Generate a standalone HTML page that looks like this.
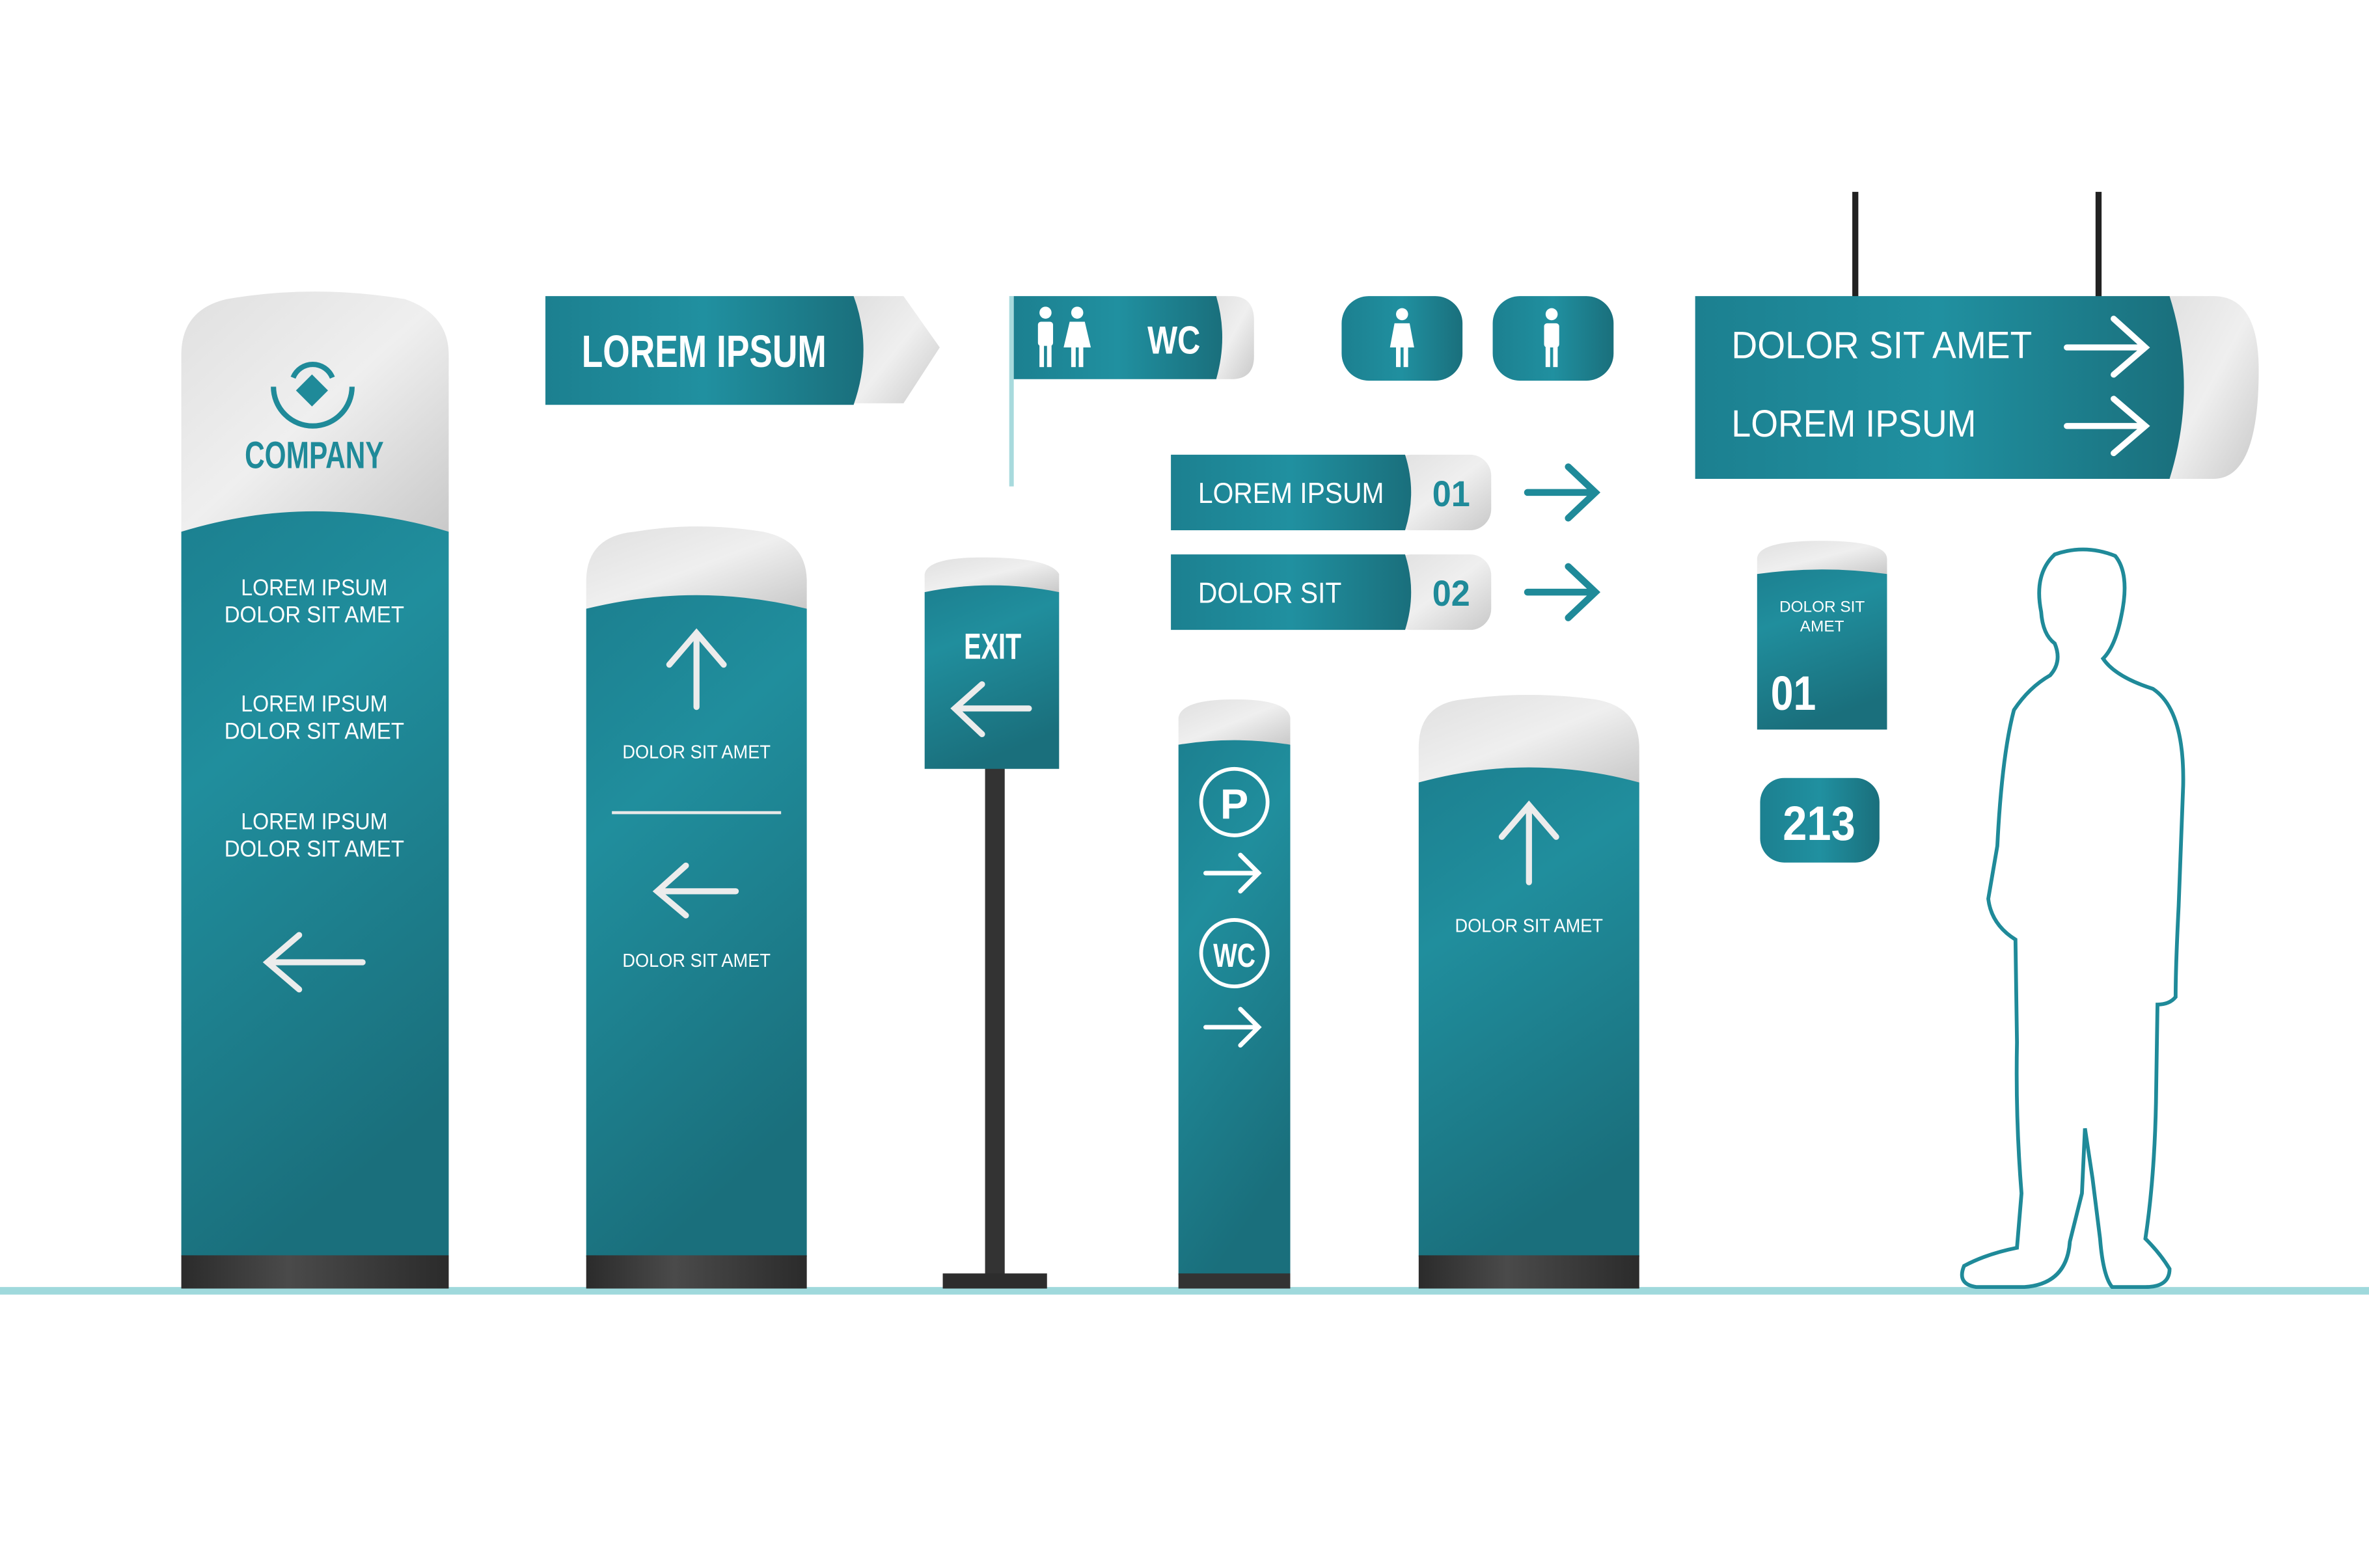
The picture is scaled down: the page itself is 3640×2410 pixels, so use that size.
<!DOCTYPE html>
<html><head><meta charset="utf-8"><style>
html,body{margin:0;padding:0;background:#fff;}
svg{display:block;}
text{font-family:"Liberation Sans",sans-serif;}
</style></head><body>
<svg width="3640" height="2410" viewBox="0 0 1568 1038" preserveAspectRatio="none" xmlns="http://www.w3.org/2000/svg">
<defs>
<linearGradient id="t" x1="0" y1="0" x2="0.3" y2="1"><stop offset="0" stop-color="#1c8090"/><stop offset="0.35" stop-color="#208e9d"/><stop offset="1" stop-color="#1a6f7c"/></linearGradient>
<linearGradient id="th" x1="0" y1="0" x2="1" y2="0"><stop offset="0" stop-color="#1c8090"/><stop offset="0.5" stop-color="#2090a0"/><stop offset="1" stop-color="#1a6f7c"/></linearGradient>
<linearGradient id="g" x1="0" y1="0" x2="1" y2="1"><stop offset="0" stop-color="#e0e0e0"/><stop offset="0.5" stop-color="#efefef"/><stop offset="1" stop-color="#c9c9c9"/></linearGradient>
<linearGradient id="d" x1="0" y1="0" x2="1" y2="0"><stop offset="0" stop-color="#2b2b2b"/><stop offset="0.4" stop-color="#4a4a4a"/><stop offset="1" stop-color="#2b2b2b"/></linearGradient>
</defs>
<rect x="0" y="852" width="1568" height="5" fill="#9fd9dc"/>

<!-- Tower 1 -->
<path d="M120 235 Q120 205 150 198 Q208 188 268 198 Q297 208 297 235 L297 352 L120 352Z" fill="url(#g)"/>
<path d="M120 352 Q208 325 297 352 L297 832 L120 832Z" fill="url(#t)"/>
<rect x="120" y="831" width="177" height="22" fill="url(#d)"/>
<g stroke="#1f8a99" stroke-width="3.5" fill="none"><path d="M181 256 A26 26 0 0 0 233 256"/><path d="M194 250 A14 14 0 0 1 220 250"/></g>
<rect x="199" y="251" width="15" height="15" fill="#1f8a99" transform="rotate(45 206.5 258.5)"/>
<text x="208" y="310" font-size="25" font-weight="bold" fill="#1f8a99" text-anchor="middle" textLength="92" lengthAdjust="spacingAndGlyphs">COMPANY</text>
<g fill="#fff" font-size="15" text-anchor="middle">
<text x="208" y="394" textLength="97" lengthAdjust="spacingAndGlyphs">LOREM IPSUM</text><text x="208" y="412" textLength="119" lengthAdjust="spacingAndGlyphs">DOLOR SIT AMET</text>
<text x="208" y="471" textLength="97" lengthAdjust="spacingAndGlyphs">LOREM IPSUM</text><text x="208" y="489" textLength="119" lengthAdjust="spacingAndGlyphs">DOLOR SIT AMET</text>
<text x="208" y="549" textLength="97" lengthAdjust="spacingAndGlyphs">LOREM IPSUM</text><text x="208" y="567" textLength="119" lengthAdjust="spacingAndGlyphs">DOLOR SIT AMET</text>
</g>
<path d="M240 637 H177 M198 619 L177 637 L198 655" stroke="#ececec" stroke-width="4" stroke-linecap="round" fill="none"/>

<!-- Lorem ipsum arrow sign -->
<path d="M565 196 L598 196 L622 230 L598 267 L565 267Z" fill="url(#g)"/>
<path d="M361 196 L565 196 Q578 231 565 268 L361 268Z" fill="url(#th)"/>
<text x="466" y="243" font-size="30" font-weight="bold" fill="#fff" text-anchor="middle" textLength="162" lengthAdjust="spacingAndGlyphs">LOREM IPSUM</text>

<!-- Tower 2 -->
<path d="M388 385 Q388 355 420 352 Q461 345 505 352 Q534 358 534 385 L534 403 L388 403Z" fill="url(#g)"/>
<path d="M388 403 Q461 385 534 403 L534 832 L388 832Z" fill="url(#t)"/>
<rect x="388" y="831" width="146" height="22" fill="url(#d)"/>
<g stroke="#ececec" stroke-width="4" stroke-linecap="round" fill="none">
<path d="M461 468 V419 M443 440 L461 419 L479 440"/>
<path d="M487 590 H435 M454 573 L435 590 L454 606"/>
</g>
<line x1="405" y1="538" x2="517" y2="538" stroke="#e8e8e8" stroke-width="2"/>
<g fill="#fff" font-size="12.5" text-anchor="middle"><text x="461" y="502" textLength="98" lengthAdjust="spacingAndGlyphs">DOLOR SIT AMET</text><text x="461" y="640" textLength="98" lengthAdjust="spacingAndGlyphs">DOLOR SIT AMET</text></g>

<!-- Exit -->
<rect x="652" y="508" width="13" height="338" fill="#333"/>
<rect x="624" y="843" width="69" height="10" fill="#2d2d2d"/>
<path d="M612 380 Q614 369 650 369 Q695 369 701 380 L701 392 L612 392Z" fill="url(#g)"/>
<path d="M612 392 Q656 383 701 392 L701 509 L612 509Z" fill="url(#t)"/>
<text x="657" y="436" font-size="24" font-weight="bold" fill="#fff" text-anchor="middle" textLength="38" lengthAdjust="spacingAndGlyphs">EXIT</text>
<path d="M681 469 H632 M650 453 L632 469 L650 486" stroke="#ececec" stroke-width="4" stroke-linecap="round" fill="none"/>

<!-- WC flag -->
<rect x="668" y="196" width="3" height="126" fill="#a8dadd"/>
<path d="M800 196 L815 196 Q830 196 830 212 L830 236 Q830 251 815 251 L800 251Z" fill="url(#g)"/>
<path d="M671 196 L805 196 Q813 223 805 251 L671 251Z" fill="url(#th)"/>
<g fill="#fff">
<circle cx="692" cy="207" r="4"/><rect x="687" y="213" width="10" height="16" rx="2"/><rect x="688" y="228" width="3" height="15"/><rect x="693" y="228" width="3" height="15"/>
<circle cx="713" cy="207" r="4"/><path d="M708 213 L718 213 L722 230 L704 230Z"/><rect x="709" y="229" width="3" height="14"/><rect x="714" y="229" width="3" height="14"/>
</g>
<text x="777" y="234" font-size="26" font-weight="bold" fill="#fff" text-anchor="middle" textLength="35" lengthAdjust="spacingAndGlyphs">WC</text>

<!-- Icon pills -->
<rect x="888" y="196" width="80" height="56" rx="18" fill="url(#th)"/>
<rect x="988" y="196" width="80" height="56" rx="18" fill="url(#th)"/>
<g fill="#fff"><circle cx="928" cy="208" r="4"/><path d="M923 214 L933 214 L936 230 L920 230Z"/><rect x="924" y="229" width="3" height="14"/><rect x="929" y="229" width="3" height="14"/>
<circle cx="1027" cy="208" r="4"/><rect x="1022" y="214" width="10" height="16" rx="2"/><rect x="1023" y="229" width="3" height="14"/><rect x="1028" y="229" width="3" height="14"/></g>

<!-- Numbered -->
<rect x="920" y="301" width="67" height="50" rx="14" fill="url(#g)"/>
<rect x="920" y="367" width="67" height="50" rx="14" fill="url(#g)"/>
<path d="M775 301 L930 301 Q938 326 930 351 L775 351Z" fill="url(#th)"/>
<path d="M775 367 L930 367 Q938 392 930 417 L775 417Z" fill="url(#th)"/>
<g fill="#fff" font-size="19"><text x="793" y="333" textLength="123" lengthAdjust="spacingAndGlyphs">LOREM IPSUM</text><text x="793" y="399" textLength="95" lengthAdjust="spacingAndGlyphs">DOLOR SIT</text></g>
<g fill="#1f8a99" font-size="24" font-weight="bold"><text x="948" y="335" textLength="25" lengthAdjust="spacingAndGlyphs">01</text><text x="948" y="401" textLength="25" lengthAdjust="spacingAndGlyphs">02</text></g>
<g stroke="#1f8a99" stroke-width="4.5" stroke-linecap="round" fill="none">
<path d="M1011 326 H1056 M1038 309 L1056 326 L1038 343"/><path d="M1011 392 H1056 M1038 375 L1056 392 L1038 409"/>
</g>

<!-- Parking tower -->
<path d="M780 475 Q782 463 817 463 Q852 463 854 475 L854 493 L780 493Z" fill="url(#g)"/>
<path d="M780 493 Q817 487 854 493 L854 844 L780 844Z" fill="url(#t)"/>
<rect x="780" y="843" width="74" height="10" fill="#333"/>
<g stroke="#fff" stroke-width="2.5" fill="none"><circle cx="817" cy="531" r="22"/><circle cx="817" cy="631" r="22"/></g>
<text x="817" y="542" font-size="28" font-weight="bold" fill="#fff" text-anchor="middle">P</text>
<text x="817" y="640" font-size="22" font-weight="bold" fill="#fff" text-anchor="middle" textLength="28" lengthAdjust="spacingAndGlyphs">WC</text>
<g stroke="#fff" stroke-width="3" stroke-linecap="round" fill="none"><path d="M798 578 H833 M821 566 L833 578 L821 590"/><path d="M798 680 H833 M821 668 L833 680 L821 692"/></g>

<!-- Tower 3 -->
<path d="M939 495 Q939 466 968 463 Q1012 457 1056 463 Q1085 468 1085 495 L1085 518 L939 518Z" fill="url(#g)"/>
<path d="M939 518 Q1012 498 1085 518 L1085 832 L939 832Z" fill="url(#t)"/>
<rect x="939" y="831" width="146" height="22" fill="url(#d)"/>
<path d="M1012 584 V533 M994 554 L1012 533 L1030 554" stroke="#ececec" stroke-width="4" stroke-linecap="round" fill="none"/>
<text x="1012" y="617" font-size="12.5" fill="#fff" text-anchor="middle" textLength="98" lengthAdjust="spacingAndGlyphs">DOLOR SIT AMET</text>

<!-- Hanging sign -->
<rect x="1226" y="127" width="4" height="70" fill="#222"/>
<rect x="1387" y="127" width="4" height="70" fill="#222"/>
<path d="M1430 196 L1465 196 Q1495 196 1495 245 Q1495 317 1465 317 L1430 317Z" fill="url(#g)"/>
<path d="M1122 196 L1436 196 Q1455 256 1436 317 L1122 317Z" fill="url(#th)"/>
<g fill="#fff" font-size="25"><text x="1146" y="237" textLength="199" lengthAdjust="spacingAndGlyphs">DOLOR SIT AMET</text><text x="1146" y="289" textLength="162" lengthAdjust="spacingAndGlyphs">LOREM IPSUM</text></g>
<g stroke="#fff" stroke-width="4" stroke-linecap="round" fill="none"><path d="M1368 230 H1420 M1399 211 L1420 230 L1399 248"/><path d="M1368 282 H1420 M1399 264 L1420 282 L1399 300"/></g>

<!-- small sign -->
<path d="M1163 370 Q1163 358 1205 358 Q1249 358 1249 370 L1249 380 L1163 380Z" fill="url(#g)"/>
<path d="M1163 380 Q1206 374 1249 380 L1249 483 L1163 483Z" fill="url(#t)"/>
<g fill="#fff" font-size="10.5" text-anchor="middle"><text x="1206" y="405">DOLOR SIT</text><text x="1206" y="418">AMET</text></g>
<text x="1172" y="470" font-size="32" font-weight="bold" fill="#fff" textLength="30" lengthAdjust="spacingAndGlyphs">01</text>
<rect x="1165" y="515" width="79" height="56" rx="16" fill="url(#th)"/>
<text x="1204" y="556" font-size="32" font-weight="bold" fill="#fff" text-anchor="middle" textLength="48" lengthAdjust="spacingAndGlyphs">213</text>

<!-- person -->
<path d="M1360 367 Q1380 360 1400 368 Q1410 380 1404 408 Q1400 428 1392 436 Q1400 448 1425 456 Q1446 470 1445 520 L1442 600 Q1440 640 1440 660 Q1436 665 1428 665 L1427 730 Q1426 780 1420 820 Q1430 830 1436 840 Q1436 852 1420 852 L1398 852 Q1392 845 1390 820 L1385 780 L1380 747 L1378 790 L1370 822 Q1368 850 1340 852 L1308 852 Q1295 850 1300 838 Q1315 830 1335 826 L1338 790 Q1334 740 1335 690 L1334 622 Q1318 612 1316 595 L1322 560 Q1325 500 1333 470 Q1343 455 1357 447 Q1365 438 1360 426 Q1352 420 1351 405 Q1346 380 1360 367Z" fill="none" stroke="#1f8a99" stroke-width="2.5"/>
</svg>
</body></html>
